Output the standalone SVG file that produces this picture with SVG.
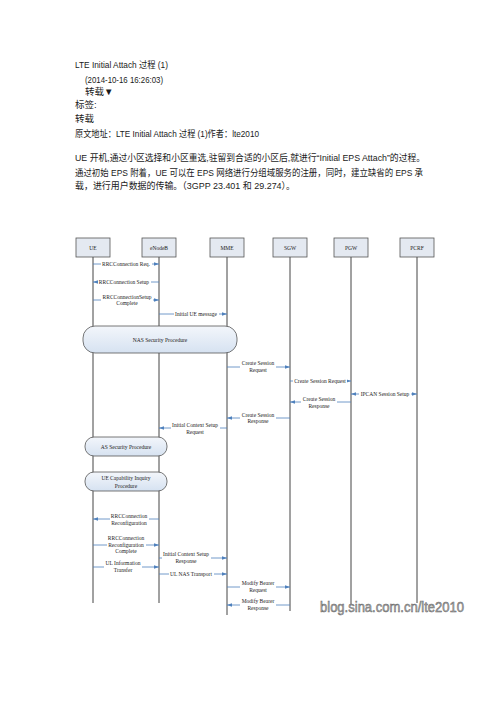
<svg xmlns="http://www.w3.org/2000/svg" width="496" height="702" viewBox="0 0 496 702">
<style>
.hd{font-family:"Liberation Sans","Noto Sans CJK SC",sans-serif;font-size:9.5px;fill:#1a1a1a}
.lb{font-family:"Liberation Serif","Noto Sans CJK SC",serif;font-size:5.5px;fill:#222;text-anchor:middle}
.box{fill:#e4e9f1;stroke:#555;stroke-width:0.8}
.life{stroke:#444;stroke-width:1;fill:none}
.msg{stroke:#4f81bd;stroke-width:0.8;fill:none;marker-end:url(#ah)}
.gap{fill:#fff}
.proc{fill:url(#pg);stroke:#555;stroke-width:0.8}
.wm{font-family:"Liberation Sans",sans-serif;font-size:14px;fill:#b0b0b0;stroke:#666;stroke-width:0.5}
</style>
<defs>
<marker id="ah" viewBox="0 0 6 4" refX="6" refY="2" markerWidth="5" markerHeight="3.4" markerUnits="userSpaceOnUse" orient="auto-start-reverse"><path d="M0,0 L6,2 L0,4 z" fill="#4f81bd"/></marker>
<linearGradient id="pg" x1="0" y1="0" x2="0" y2="1"><stop offset="0" stop-color="#f3f6fb"/><stop offset="1" stop-color="#d6e2f1"/></linearGradient>
</defs>
<rect width="496" height="702" fill="#fff"/>
<g id="header">
<text class="hd" x="75" y="68" textLength="93" lengthAdjust="spacingAndGlyphs">LTE Initial Attach 过程 (1)</text>
<text class="hd" x="85" y="83" textLength="78" lengthAdjust="spacingAndGlyphs">(2014-10-16 16:26:03)</text>
<text class="hd" x="85" y="95">转载▼</text>
<text class="hd" x="75" y="108">标签:</text>
<text class="hd" x="75" y="122">转载</text>
<text class="hd" x="75" y="137" textLength="184" lengthAdjust="spacingAndGlyphs">原文地址：LTE Initial Attach 过程 (1)作者：lte2010</text>
<text class="hd" x="75" y="161" textLength="350" lengthAdjust="spacingAndGlyphs">UE 开机,通过小区选择和小区重选,驻留到合适的小区后,就进行“Initial EPS Attach”的过程。</text>
<text class="hd" x="75" y="176" textLength="348" lengthAdjust="spacingAndGlyphs">通过初始 EPS 附着，UE 可以在 EPS 网络进行分组域服务的注册，同时，建立缺省的 EPS 承</text>
<text class="hd" x="75" y="189" textLength="220" lengthAdjust="spacingAndGlyphs">载，进行用户数据的传输。（3GPP 23.401 和 29.274）。</text>
</g>
<g id="lifelines">
<line class="life" x1="93" y1="257" x2="93" y2="603"/>
<line class="life" x1="159" y1="257" x2="159" y2="603"/>
<line class="life" x1="227" y1="257" x2="227" y2="615"/>
<line class="life" x1="290" y1="257" x2="290" y2="611"/>
<line class="life" x1="351" y1="257" x2="351" y2="605"/>
<line class="life" x1="417" y1="257" x2="417" y2="603"/>
</g>
<g id="node-UE"><rect class="box" x="76" y="238" width="34" height="19"/><text class="lb" x="93" y="249.5">UE</text></g>
<g id="node-eNodeB"><rect class="box" x="142" y="238" width="34" height="19"/><text class="lb" x="159" y="249.5">eNodeB</text></g>
<g id="node-MME"><rect class="box" x="210" y="238" width="34" height="19"/><text class="lb" x="227" y="249.5">MME</text></g>
<g id="node-SGW"><rect class="box" x="273" y="238" width="34" height="19"/><text class="lb" x="290" y="249.5">SGW</text></g>
<g id="node-PGW"><rect class="box" x="334" y="238" width="34" height="19"/><text class="lb" x="351" y="249.5">PGW</text></g>
<g id="node-PCRF"><rect class="box" x="400" y="238" width="34" height="19"/><text class="lb" x="417" y="249.5">PCRF</text></g>
<g id="proc-NAS"><rect class="proc" x="83" y="326" width="154" height="27" rx="12" ry="12"/><text class="lb" x="160" y="341.5">NAS Security Procedure</text></g>
<g id="proc-AS"><rect class="proc" x="85" y="437" width="82" height="19" rx="9" ry="9"/><text class="lb" x="126" y="448.5">AS Security Procedure</text></g>
<g id="proc-UECap"><rect class="proc" x="85" y="472" width="82" height="19" rx="9" ry="9"/><text class="lb" x="126" y="480">UE Capability Inquiry</text><text class="lb" x="126" y="487.5">Procedure</text></g>
<g id="connectors">
<line class="msg" x1="93" y1="264" x2="159" y2="264"/>
<rect class="gap" x="101" y="262" width="51" height="4"/>
<text class="lb" x="126" y="266">RRCConnection Req.</text>

<line class="msg" x1="159" y1="282" x2="93" y2="282"/>
<rect class="gap" x="98" y="280" width="53" height="4"/>
<text class="lb" x="124" y="284">RRCConnection Setup</text>

<line class="msg" x1="93" y1="300" x2="159" y2="300"/>
<rect class="gap" x="101" y="298" width="52" height="4"/>
<text class="lb" x="127" y="299">RRCConnectionSetup</text>
<text class="lb" x="127" y="305">Complete</text>

<line class="msg" x1="159" y1="314" x2="227" y2="314"/>
<rect class="gap" x="174" y="312" width="45" height="4"/>
<text class="lb" x="196" y="316">Initial UE message</text>

<line class="msg" x1="227" y1="367" x2="290" y2="367"/>
<rect class="gap" x="240" y="365" width="36" height="4"/>
<text class="lb" x="258" y="365">Create Session</text>
<text class="lb" x="258" y="372">Request</text>

<line class="msg" x1="290" y1="381" x2="351" y2="381"/>
<rect class="gap" x="293" y="379" width="54" height="4"/>
<text class="lb" x="320" y="383">Create Session Request</text>

<line class="msg" x1="351" y1="394" x2="417" y2="394" style="marker-start:url(#ah)"/>
<rect class="gap" x="359" y="392" width="52" height="4"/>
<text class="lb" x="385" y="396">IPCAN Session Setup</text>

<line class="msg" x1="351" y1="402" x2="290" y2="402"/>
<rect class="gap" x="301" y="400" width="36" height="4"/>
<text class="lb" x="319" y="401">Create Session</text>
<text class="lb" x="319" y="408">Response</text>

<line class="msg" x1="290" y1="418" x2="227" y2="418"/>
<rect class="gap" x="240" y="416" width="36" height="4"/>
<text class="lb" x="258" y="417">Create Session</text>
<text class="lb" x="258" y="423">Response</text>

<line class="msg" x1="227" y1="428" x2="159" y2="428"/>
<rect class="gap" x="171" y="426" width="49" height="4"/>
<text class="lb" x="195" y="427">Initial Context Setup</text>
<text class="lb" x="195" y="434">Request</text>

<line class="msg" x1="159" y1="519" x2="93" y2="519"/>
<rect class="gap" x="110" y="517" width="39" height="4"/>
<text class="lb" x="129" y="518">RRCConnection</text>
<text class="lb" x="129" y="525">Reconfiguration</text>

<line class="msg" x1="93" y1="545" x2="159" y2="545"/>
<rect class="gap" x="107" y="543" width="39" height="4"/>
<text class="lb" x="126" y="540">RRCConnection</text>
<text class="lb" x="126" y="547">Reconfiguration</text>
<text class="lb" x="126" y="553">Complete</text>

<line class="msg" x1="159" y1="558" x2="227" y2="558"/>
<rect class="gap" x="162" y="556" width="49" height="4"/>
<text class="lb" x="186" y="556">Initial Context Setup</text>
<text class="lb" x="186" y="563">Response</text>

<line class="msg" x1="93" y1="567" x2="159" y2="567"/>
<rect class="gap" x="104" y="565" width="38" height="4"/>
<text class="lb" x="123" y="565">UL Information</text>
<text class="lb" x="123" y="572">Transfer</text>

<line class="msg" x1="159" y1="574" x2="227" y2="574"/>
<rect class="gap" x="169" y="572" width="45" height="4"/>
<text class="lb" x="191" y="576">UL NAS Transport</text>

<line class="msg" x1="227" y1="587" x2="290" y2="587"/>
<rect class="gap" x="240" y="585" width="36" height="4"/>
<text class="lb" x="258" y="585">Modify Bearer</text>
<text class="lb" x="258" y="592">Request</text>

<line class="msg" x1="290" y1="605" x2="227" y2="605"/>
<rect class="gap" x="240" y="603" width="36" height="4"/>
<text class="lb" x="258" y="603">Modify Bearer</text>
<text class="lb" x="258" y="610">Response</text>
</g>
<g id="watermark">
<text class="wm" x="320" y="612" textLength="144" lengthAdjust="spacingAndGlyphs">blog.sina.com.cn/lte2010</text>
</g>
</svg>
